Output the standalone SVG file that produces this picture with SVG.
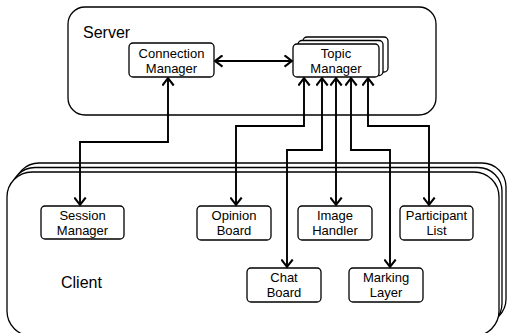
<svg xmlns="http://www.w3.org/2000/svg" width="507" height="333" viewBox="0 0 507 333">
  <style>
    .frame { fill: #fff; stroke: #000; stroke-width: 1.3; }
    .node { fill: #fff; stroke: #000; stroke-width: 1.3; }
    .lbl { font-family: "Liberation Sans", Arial, sans-serif; font-size: 13px; fill: #000; text-anchor: middle; }
    .title { font-family: "Liberation Sans", Arial, sans-serif; font-size: 16px; fill: #000; }
    .link { fill: none; stroke: #000; stroke-width: 1.9; marker-start: url(#arrow); marker-end: url(#arrow); }
  </style>
  <defs>
    <marker id="arrow" viewBox="0 0 10 13" refX="8.5" refY="6.5" markerWidth="10" markerHeight="13" markerUnits="userSpaceOnUse" orient="auto-start-reverse">
      <path d="M1,0.8 L8.3,6.5 L1,12.2" fill="none" stroke="#000" stroke-width="2.1"/>
    </marker>
  </defs>

  <rect width="507" height="333" fill="#fff"/>

  <!-- Server frame -->
  <g id="server">
    <rect class="frame" x="68" y="7" width="368" height="108" rx="17"/>
    <text class="title" x="83" y="38">Server</text>
  </g>

  <!-- Client frame (stacked) -->
  <g id="client">
    <rect class="frame" x="15" y="163" width="491" height="160" rx="24"/>
    <rect class="frame" x="11" y="167.5" width="491" height="160" rx="24"/>
    <rect class="frame" x="7" y="172" width="492" height="164" rx="25"/>
    <text class="title" x="61" y="288">Client</text>
  </g>

  <g id="connection-manager">
    <rect class="node" x="129" y="43" width="85" height="34" rx="4"/>
    <text class="lbl" x="171.5" y="58">Connection</text>
    <text class="lbl" x="171.5" y="73">Manager</text>
  </g>

  <g id="topic-manager">
    <rect class="node" x="303" y="37" width="85" height="35" rx="4"/>
    <rect class="node" x="298" y="40.5" width="85" height="35" rx="4"/>
    <rect class="node" x="293" y="44" width="86" height="33" rx="4"/>
    <text class="lbl" x="336" y="58">Topic</text>
    <text class="lbl" x="336" y="73">Manager</text>
  </g>

  <g id="session-manager">
    <rect class="node" x="41" y="206" width="83" height="33" rx="4"/>
    <text class="lbl" x="82.5" y="220">Session</text>
    <text class="lbl" x="82.5" y="235">Manager</text>
  </g>

  <g id="opinion-board">
    <rect class="node" x="197" y="206" width="74" height="34" rx="4"/>
    <text class="lbl" x="234" y="220">Opinion</text>
    <text class="lbl" x="234" y="235">Board</text>
  </g>

  <g id="image-handler">
    <rect class="node" x="298" y="206" width="74" height="34" rx="4"/>
    <text class="lbl" x="335" y="220">Image</text>
    <text class="lbl" x="335" y="235">Handler</text>
  </g>

  <g id="participant-list">
    <rect class="node" x="400" y="206" width="73" height="34" rx="4"/>
    <text class="lbl" x="436.5" y="220">Participant</text>
    <text class="lbl" x="436.5" y="235">List</text>
  </g>

  <g id="chat-board">
    <rect class="node" x="247" y="268" width="74" height="34" rx="4"/>
    <text class="lbl" x="284" y="282">Chat</text>
    <text class="lbl" x="284" y="297">Board</text>
  </g>

  <g id="marking-layer">
    <rect class="node" x="349" y="268" width="74" height="34" rx="4"/>
    <text class="lbl" x="386" y="282">Marking</text>
    <text class="lbl" x="386" y="297">Layer</text>
  </g>

  <!-- Connectors: every link carries an open arrowhead at both ends -->
  <g id="connectors">
    <path class="link" d="M80,205 L80,142 L168,142 L168,78"/>
    <path class="link" d="M215,61 L292,61"/>
    <path class="link" d="M236,205 L236,126 L304,126 L304,78"/>
    <path class="link" d="M287,267 L287,150 L322,150 L322,78"/>
    <path class="link" d="M336,205 L336,78"/>
    <path class="link" d="M351,78 L351,150 L390,150 L390,267"/>
    <path class="link" d="M368,78 L368,126 L429,126 L429,205"/>
  </g>
</svg>
